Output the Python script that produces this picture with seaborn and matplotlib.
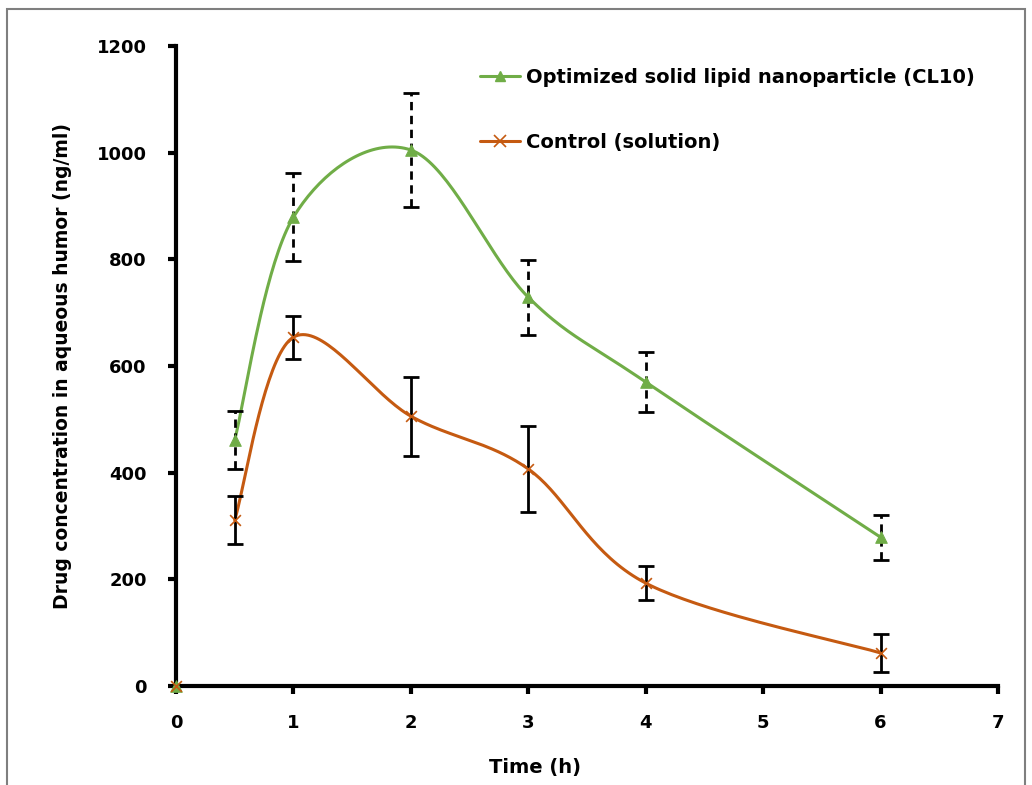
import numpy as np
import pandas as pd
import matplotlib
matplotlib.use("Agg")
import matplotlib.pyplot as plt
from matplotlib.patches import Rectangle
from matplotlib.lines import Line2D
import seaborn as sns

# ---- data ----
time_h = [0.5, 1, 2, 3, 4, 6]
sln_mean = [461, 879, 1005, 729, 570, 279]
sln_err = [55, 82, 107, 70, 56, 42]
ctrl_mean = [311, 654, 506, 407, 193, 62]
ctrl_err = [45, 40, 74, 80, 32, 35]
origin_t = [0]
origin_v = [0]
sln_label = "Optimized solid lipid nanoparticle (CL10)"
ctrl_label = "Control (solution)"
x_ticks = [0, 1, 2, 3, 4, 5, 6, 7]
y_ticks = [0, 200, 400, 600, 800, 1000, 1200]

GREEN = "#70AD47"
ORANGE = "#C55A11"


def smooth(xs, ys, n=40):
    """Excel-style smoothed line: cubic Bezier with Catmull-Rom control points."""
    P = np.column_stack([xs, ys]).astype(float)
    m = len(P)
    out = []
    for i in range(m - 1):
        p0 = P[i - 1] if i > 0 else P[i]
        p1 = P[i]
        p2 = P[i + 1]
        p3 = P[i + 2] if i + 2 < m else P[i + 1]
        c1 = p1 + (p2 - p0) / 6.0
        c2 = p2 - (p3 - p1) / 6.0
        t = np.linspace(0, 1, n)[:, None]
        seg = ((1 - t) ** 3) * p1 + 3 * ((1 - t) ** 2) * t * c1 + 3 * (1 - t) * t ** 2 * c2 + t ** 3 * p2
        out.append(seg if i == 0 else seg[1:])
    arr = np.vstack(out)
    return arr[:, 0], arr[:, 1]


sns.set_style("white")
plt.rcParams['font.family'] = ['DejaVu Sans']
plt.rcParams['text.color'] = 'black'
plt.rcParams['axes.labelcolor'] = 'black'
plt.rcParams['xtick.color'] = 'black'
plt.rcParams['ytick.color'] = 'black'

fig = plt.figure(figsize=(10.32, 7.85), dpi=100)
ax = fig.add_axes([0.1705, 0.1261, 0.7965, 0.8153])

# smoothed curves
for xs, ys, col in [(time_h, sln_mean, GREEN), (time_h, ctrl_mean, ORANGE)]:
    sx, sy = smooth(xs, ys)
    df = pd.DataFrame({"x": sx, "y": sy})
    sns.lineplot(data=df, x="x", y="y", sort=False, estimator=None, color=col,
                 linewidth=2.2, ax=ax, zorder=3)

# error bars
eb1 = ax.errorbar(time_h, sln_mean, yerr=sln_err, fmt="none", ecolor="black",
                  elinewidth=2, capsize=6, capthick=2, zorder=4)
eb1[2][0].set_linestyle((0, (3, 2)))
ax.errorbar(time_h, ctrl_mean, yerr=ctrl_err, fmt="none", ecolor="black",
            elinewidth=2, capsize=6, capthick=2, zorder=4)

# markers
sns.scatterplot(x=time_h + origin_t, y=sln_mean + origin_v, marker="^", color=GREEN,
                s=70, edgecolor=GREEN, ax=ax, zorder=5, clip_on=False)
sns.scatterplot(x=time_h + origin_t, y=ctrl_mean + origin_v, marker="x", color=ORANGE,
                s=60, linewidth=1.2, ax=ax, zorder=6, clip_on=False)

# legend
h1 = Line2D([], [], color=GREEN, lw=2.2, marker="^", markersize=7)
h2 = Line2D([], [], color=ORANGE, lw=2.2, marker="x", markersize=8, markeredgewidth=1.2)
leg = ax.legend([h1, h2], [sln_label, ctrl_label], loc="upper left",
                bbox_to_anchor=(0.36, 0.978), frameon=False,
                prop={"weight": "bold", "size": 14}, labelspacing=2.35,
                handlelength=2.1, handletextpad=0.3, borderaxespad=0)
for t in leg.get_texts():
    t.set_color("black")

ax.set_xlim(0, 7)
ax.set_ylim(0, 1200)
ax.set_xticks(x_ticks)
ax.set_yticks(y_ticks)
for lab in ax.get_xticklabels() + ax.get_yticklabels():
    lab.set_fontweight("bold")
    lab.set_fontsize(13)
ax.tick_params(axis="both", direction="out", length=6, width=3, color="black",
               labelcolor="black", left=True, bottom=True)
ax.tick_params(axis="y", pad=15)
ax.tick_params(axis="x", pad=14)

for s in ["top", "right"]:
    ax.spines[s].set_visible(False)
for s in ["left", "bottom"]:
    ax.spines[s].set_linewidth(3)
    ax.spines[s].set_color("black")

ax.set_xlabel("Time (h)", fontsize=14, fontweight="bold", labelpad=20)
ax.xaxis.set_label_coords(0.437, -0.112)
ax.set_ylabel("Drug concentration in aqueous humor (ng/ml)", fontsize=13.5,
              fontweight="bold", labelpad=18)

# outer frame
fig.patches.append(Rectangle((7 / 1032, -0.1), (1025 - 7) / 1032, 1 - 9 / 785 + 0.1,
                             transform=fig.transFigure, fill=False,
                             edgecolor="#7f7f7f", linewidth=1.5))

fig.savefig("out.png", dpi=100)
